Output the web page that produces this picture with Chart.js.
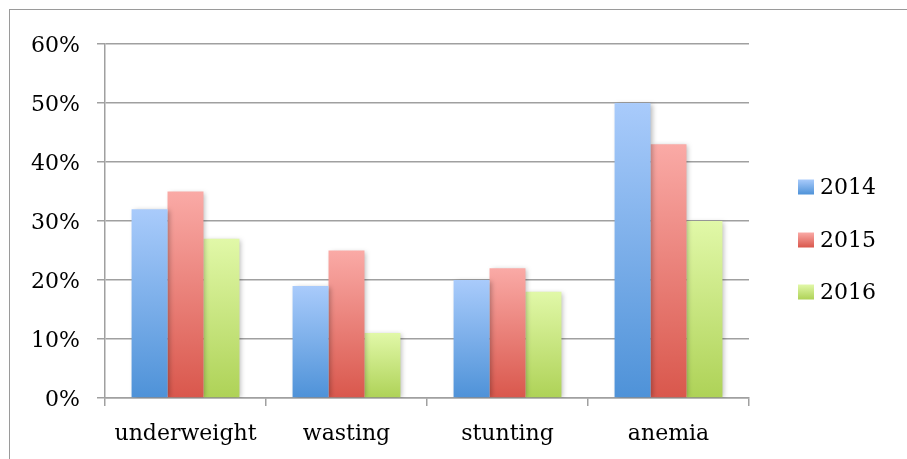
<!DOCTYPE html>
<html>
<head>
<meta charset="utf-8">
<script src="https://cdn.jsdelivr.net/npm/chart.js@4.4.0/dist/chart.umd.min.js"></script>
<style>
  body { margin: 0; background: #fff; overflow: hidden; }
  #wrap { position: relative; width: 907px; height: 459px; overflow: hidden; }
  #frame { position: absolute; left: 9px; top: 9px; width: 1000px; height: 1000px; border: 1.5px solid #9a9a9a; }
  canvas { position: absolute; left: 0; top: 0; }
</style>
</head>
<body>
<div id="wrap">
  <div id="frame"></div>
  <canvas id="myChart" width="907" height="459"></canvas>
</div>
<script>
const categories = ['underweight', 'wasting', 'stunting', 'anemia'];
const years = ['2014', '2015', '2016'];
const values2014 = [32, 19, 20, 50];
const values2015 = [35, 25, 22, 43];
const values2016 = [27, 11, 18, 30];
const yTicks = [0, 10, 20, 30, 40, 50, 60];

// top / bottom colours of each bar gradient
const topColors = ['#a9cbfb', '#faaaa6', '#e1f8a8'];
const bottomColors = ['#4e92d8', '#d9574c', '#aed257'];

const font = { family: '"DejaVu Serif", serif', size: 22 };

function barGradient(i) {
  return (c) => {
    const chart = c.chart;
    if (!chart.chartArea || c.type !== 'data') return bottomColors[i];
    const y = chart.scales.y;
    const g = chart.ctx.createLinearGradient(0, y.getPixelForValue(c.raw), 0, y.getPixelForValue(0));
    g.addColorStop(0, topColors[i]);
    g.addColorStop(1, bottomColors[i]);
    return g;
  };
}

// soft shadow on the bars
const shadowPlugin = {
  id: 'barShadow',
  beforeDatasetsDraw(chart) {
    const ctx = chart.ctx;
    ctx.save();
    ctx.shadowColor = 'rgba(0,0,0,0.28)';
    ctx.shadowBlur = 5;
    ctx.shadowOffsetX = 2;
    ctx.shadowOffsetY = 1;
  },
  afterDatasetsDraw(chart) {
    chart.ctx.restore();
  }
};

// legend on the right, drawn by hand
const legendPlugin = {
  id: 'sideLegend',
  afterDraw(chart) {
    const ctx = chart.ctx;
    const x = 798, rows = [187, 240, 292];
    ctx.save();
    chart.data.datasets.forEach((ds, i) => {
      const cy = rows[i];
      const g = ctx.createLinearGradient(0, cy - 7.5, 0, cy + 7.5);
      g.addColorStop(0, topColors[i]);
      g.addColorStop(1, bottomColors[i]);
      ctx.fillStyle = g;
      ctx.fillRect(x, cy - 7.5, 16, 15);
      ctx.fillStyle = '#000';
      ctx.font = `${font.size}px ${font.family}`;
      ctx.textBaseline = 'middle';
      ctx.fillText(ds.label, x + 22, cy + 1);
    });
    ctx.restore();
  }
};

const ctx = document.getElementById('myChart').getContext('2d');
const myChart = new Chart(ctx, {
  type: 'bar',
  data: {
    labels: categories,
    datasets: [
      { label: years[0], data: values2014, backgroundColor: barGradient(0) },
      { label: years[1], data: values2015, backgroundColor: barGradient(1) },
      { label: years[2], data: values2016, backgroundColor: barGradient(2) }
    ]
  },
  options: {
    responsive: false,
    animation: false,
    layout: { padding: { left: 30, right: 158, top: 44, bottom: 0 } },
    datasets: { bar: { categoryPercentage: 0.67, barPercentage: 1, borderWidth: 0 } },
    plugins: { legend: { display: false }, tooltip: { enabled: false } },
    scales: {
      x: {
        afterFit(scale) { scale.height = 61; },
        grid: { drawOnChartArea: false, drawTicks: true, tickLength: 8, color: '#a0a0a0', lineWidth: 1.5, offset: true },
        border: { color: '#a0a0a0', width: 1.5 },
        ticks: { color: '#000', font: font, padding: 15 }
      },
      y: {
        min: 0,
        max: 60,
        afterFit(scale) { scale.width = 75; },
        afterBuildTicks(scale) { scale.ticks = yTicks.map(v => ({ value: v })); },
        grid: { color: '#a0a0a0', lineWidth: 1.5, tickLength: 8 },
        border: { color: '#a0a0a0', width: 1.5 },
        ticks: { color: '#000', font: font, padding: 17, labelOffset: 2, callback: v => v + '%' }
      }
    }
  },
  plugins: [shadowPlugin, legendPlugin]
});
</script>
</body>
</html>
